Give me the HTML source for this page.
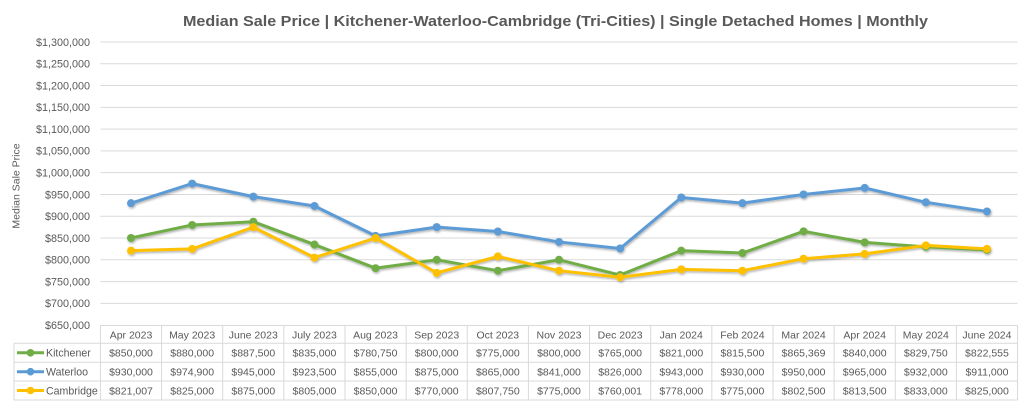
<!DOCTYPE html>
<html>
<head>
<meta charset="utf-8">
<style>
html,body{margin:0;padding:0;background:#fff;}
svg{display:block;}
text{font-family:"Liberation Sans",sans-serif;fill:#595959;}
.yl{font-size:10.8px;text-anchor:end;}
.tc{font-size:10.5px;text-anchor:middle;}
.lg{font-size:10.6px;}
</style>
</head>
<body>
<svg width="1024" height="402" viewBox="0 0 1024 402" xmlns="http://www.w3.org/2000/svg">
<defs>
<filter id="sh" x="-5%" y="-20%" width="110%" height="140%">
<feDropShadow dx="0.8" dy="1.5" stdDeviation="1" flood-color="#000" flood-opacity="0.3"/>
</filter>
<marker id="mg" markerUnits="userSpaceOnUse" markerWidth="10" markerHeight="10" refX="5" refY="5"><circle cx="5" cy="5" r="4" fill="#70AD47"/></marker>
<marker id="mb" markerUnits="userSpaceOnUse" markerWidth="10" markerHeight="10" refX="5" refY="5"><circle cx="5" cy="5" r="4" fill="#5B9BD5"/></marker>
<marker id="my" markerUnits="userSpaceOnUse" markerWidth="10" markerHeight="10" refX="5" refY="5"><circle cx="5" cy="5" r="4" fill="#FFC000"/></marker>
</defs>

<!-- Title -->
<text x="183" y="26" font-size="15" font-weight="bold" textLength="745" lengthAdjust="spacingAndGlyphs">Median Sale Price | Kitchener-Waterloo-Cambridge (Tri-Cities) | Single Detached Homes | Monthly</text>

<!-- Gridlines -->
<g stroke="#d9d9d9" stroke-width="1">
<line x1="100.4" x2="1017.5" y1="42" y2="42"/>
<line x1="100.4" x2="1017.5" y1="63.78" y2="63.78"/>
<line x1="100.4" x2="1017.5" y1="85.56" y2="85.56"/>
<line x1="100.4" x2="1017.5" y1="107.34" y2="107.34"/>
<line x1="100.4" x2="1017.5" y1="129.12" y2="129.12"/>
<line x1="100.4" x2="1017.5" y1="150.9" y2="150.9"/>
<line x1="100.4" x2="1017.5" y1="172.68" y2="172.68"/>
<line x1="100.4" x2="1017.5" y1="194.46" y2="194.46"/>
<line x1="100.4" x2="1017.5" y1="216.24" y2="216.24"/>
<line x1="100.4" x2="1017.5" y1="238.02" y2="238.02"/>
<line x1="100.4" x2="1017.5" y1="259.8" y2="259.8"/>
<line x1="100.4" x2="1017.5" y1="281.58" y2="281.58"/>
<line x1="100.4" x2="1017.5" y1="303.36" y2="303.36"/>
</g>

<!-- Y labels -->
<g>
<text class="yl" x="90" y="45.8">$1,300,000</text>
<text class="yl" x="90" y="67.6">$1,250,000</text>
<text class="yl" x="90" y="89.4">$1,200,000</text>
<text class="yl" x="90" y="111.1">$1,150,000</text>
<text class="yl" x="90" y="132.9">$1,100,000</text>
<text class="yl" x="90" y="154.7">$1,050,000</text>
<text class="yl" x="90" y="176.5">$1,000,000</text>
<text class="yl" x="90" y="198.3">$950,000</text>
<text class="yl" x="90" y="220">$900,000</text>
<text class="yl" x="90" y="241.8">$850,000</text>
<text class="yl" x="90" y="263.6">$800,000</text>
<text class="yl" x="90" y="285.4">$750,000</text>
<text class="yl" x="90" y="307.2">$700,000</text>
<text class="yl" x="90" y="328.9">$650,000</text>
</g>

<!-- Axis title -->
<text x="0" y="0" font-size="10.5" text-anchor="middle" transform="translate(19.5,186) rotate(-90)">Median Sale Price</text>

<!-- Series -->
<g fill="none" stroke-width="3" stroke-linejoin="round" stroke-linecap="round" filter="url(#sh)">
<polyline stroke="#70AD47" marker-start="url(#mg)" marker-mid="url(#mg)" marker-end="url(#mg)" points="131,238.0 192.14,224.95 253.28,221.69 314.42,244.55 375.56,268.19 436.7,259.8 497.84,270.69 558.98,259.8 620.12,275.05 681.26,250.65 742.4,253.05 803.54,231.33 864.68,242.38 925.82,246.84 986.96,249.98"/>
<polyline stroke="#5B9BD5" marker-start="url(#mb)" marker-mid="url(#mb)" marker-end="url(#mb)" points="131,203.17 192.14,183.61 253.28,196.64 314.42,206.0 375.56,235.84 436.7,227.13 497.84,231.49 558.98,241.94 620.12,248.47 681.26,197.51 742.4,203.17 803.54,194.46 864.68,187.93 925.82,202.3 986.96,211.45"/>
<polyline stroke="#FFC000" marker-start="url(#my)" marker-mid="url(#my)" marker-end="url(#my)" points="131,250.65 192.14,248.91 253.28,227.13 314.42,257.62 375.56,238.0 436.7,272.87 497.84,256.42 558.98,270.69 620.12,277.22 681.26,269.38 742.4,270.69 803.54,258.71 864.68,253.92 925.82,245.43 986.96,248.91"/>
</g>

<!-- Table grid -->
<g stroke="#d9d9d9" stroke-width="1">
<line x1="100.4" x2="1017.5" y1="325.5" y2="325.5"/>
<line x1="14" x2="1017.5" y1="343.3" y2="343.3"/>
<line x1="14" x2="1017.5" y1="362.3" y2="362.3"/>
<line x1="14" x2="1017.5" y1="381" y2="381"/>
<line x1="14" x2="1017.5" y1="400" y2="400"/>
<line x1="14" x2="14" y1="343.3" y2="400"/>
<line x1="100.43" x2="100.43" y1="325.5" y2="400"/>
<line x1="161.57" x2="161.57" y1="325.5" y2="400"/>
<line x1="222.71" x2="222.71" y1="325.5" y2="400"/>
<line x1="283.85" x2="283.85" y1="325.5" y2="400"/>
<line x1="344.99" x2="344.99" y1="325.5" y2="400"/>
<line x1="406.13" x2="406.13" y1="325.5" y2="400"/>
<line x1="467.27" x2="467.27" y1="325.5" y2="400"/>
<line x1="528.41" x2="528.41" y1="325.5" y2="400"/>
<line x1="589.55" x2="589.55" y1="325.5" y2="400"/>
<line x1="650.69" x2="650.69" y1="325.5" y2="400"/>
<line x1="711.83" x2="711.83" y1="325.5" y2="400"/>
<line x1="772.97" x2="772.97" y1="325.5" y2="400"/>
<line x1="834.11" x2="834.11" y1="325.5" y2="400"/>
<line x1="895.25" x2="895.25" y1="325.5" y2="400"/>
<line x1="956.39" x2="956.39" y1="325.5" y2="400"/>
<line x1="1017.53" x2="1017.53" y1="325.5" y2="400"/>
</g>

<!-- Legend keys -->
<g stroke-width="3">
<line x1="17" x2="44" y1="352.8" y2="352.8" stroke="#70AD47"/>
<circle cx="30.5" cy="352.8" r="3.8" fill="#70AD47" stroke="none"/>
<line x1="17" x2="44" y1="371.7" y2="371.7" stroke="#5B9BD5"/>
<circle cx="30.5" cy="371.7" r="3.8" fill="#5B9BD5" stroke="none"/>
<line x1="17" x2="44" y1="390.5" y2="390.5" stroke="#FFC000"/>
<circle cx="30.5" cy="390.5" r="3.8" fill="#FFC000" stroke="none"/>
</g>
<text class="lg" x="46" y="356.6">Kitchener</text>
<text class="lg" x="46" y="375.5">Waterloo</text>
<text class="lg" x="46" y="394.3">Cambridge</text>

<!-- Header row -->
<g>
<text class="tc" x="131" y="338.3">Apr 2023</text>
<text class="tc" x="192.14" y="338.3">May 2023</text>
<text class="tc" x="253.28" y="338.3">June 2023</text>
<text class="tc" x="314.42" y="338.3">July 2023</text>
<text class="tc" x="375.56" y="338.3">Aug 2023</text>
<text class="tc" x="436.7" y="338.3">Sep 2023</text>
<text class="tc" x="497.84" y="338.3">Oct 2023</text>
<text class="tc" x="558.98" y="338.3">Nov 2023</text>
<text class="tc" x="620.12" y="338.3">Dec 2023</text>
<text class="tc" x="681.26" y="338.3">Jan 2024</text>
<text class="tc" x="742.4" y="338.3">Feb 2024</text>
<text class="tc" x="803.54" y="338.3">Mar 2024</text>
<text class="tc" x="864.68" y="338.3">Apr 2024</text>
<text class="tc" x="925.82" y="338.3">May 2024</text>
<text class="tc" x="986.96" y="338.3">June 2024</text>
</g>

<!-- Kitchener row -->
<g>
<text class="tc" x="131" y="356.6">$850,000</text>
<text class="tc" x="192.14" y="356.6">$880,000</text>
<text class="tc" x="253.28" y="356.6">$887,500</text>
<text class="tc" x="314.42" y="356.6">$835,000</text>
<text class="tc" x="375.56" y="356.6">$780,750</text>
<text class="tc" x="436.7" y="356.6">$800,000</text>
<text class="tc" x="497.84" y="356.6">$775,000</text>
<text class="tc" x="558.98" y="356.6">$800,000</text>
<text class="tc" x="620.12" y="356.6">$765,000</text>
<text class="tc" x="681.26" y="356.6">$821,000</text>
<text class="tc" x="742.4" y="356.6">$815,500</text>
<text class="tc" x="803.54" y="356.6">$865,369</text>
<text class="tc" x="864.68" y="356.6">$840,000</text>
<text class="tc" x="925.82" y="356.6">$829,750</text>
<text class="tc" x="986.96" y="356.6">$822,555</text>
</g>

<!-- Waterloo row -->
<g>
<text class="tc" x="131" y="375.5">$930,000</text>
<text class="tc" x="192.14" y="375.5">$974,900</text>
<text class="tc" x="253.28" y="375.5">$945,000</text>
<text class="tc" x="314.42" y="375.5">$923,500</text>
<text class="tc" x="375.56" y="375.5">$855,000</text>
<text class="tc" x="436.7" y="375.5">$875,000</text>
<text class="tc" x="497.84" y="375.5">$865,000</text>
<text class="tc" x="558.98" y="375.5">$841,000</text>
<text class="tc" x="620.12" y="375.5">$826,000</text>
<text class="tc" x="681.26" y="375.5">$943,000</text>
<text class="tc" x="742.4" y="375.5">$930,000</text>
<text class="tc" x="803.54" y="375.5">$950,000</text>
<text class="tc" x="864.68" y="375.5">$965,000</text>
<text class="tc" x="925.82" y="375.5">$932,000</text>
<text class="tc" x="986.96" y="375.5">$911,000</text>
</g>

<!-- Cambridge row -->
<g>
<text class="tc" x="131" y="394.3">$821,007</text>
<text class="tc" x="192.14" y="394.3">$825,000</text>
<text class="tc" x="253.28" y="394.3">$875,000</text>
<text class="tc" x="314.42" y="394.3">$805,000</text>
<text class="tc" x="375.56" y="394.3">$850,000</text>
<text class="tc" x="436.7" y="394.3">$770,000</text>
<text class="tc" x="497.84" y="394.3">$807,750</text>
<text class="tc" x="558.98" y="394.3">$775,000</text>
<text class="tc" x="620.12" y="394.3">$760,001</text>
<text class="tc" x="681.26" y="394.3">$778,000</text>
<text class="tc" x="742.4" y="394.3">$775,000</text>
<text class="tc" x="803.54" y="394.3">$802,500</text>
<text class="tc" x="864.68" y="394.3">$813,500</text>
<text class="tc" x="925.82" y="394.3">$833,000</text>
<text class="tc" x="986.96" y="394.3">$825,000</text>
</g>
</svg>
</body>
</html>
